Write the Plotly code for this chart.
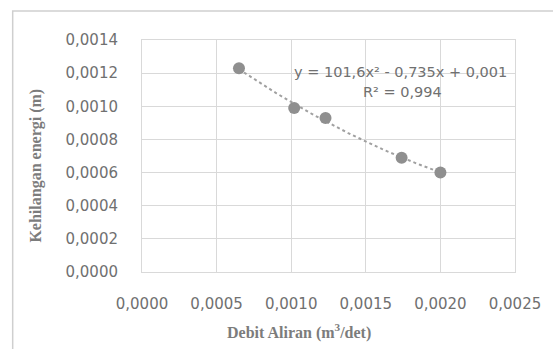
import numpy as np
import plotly.graph_objects as go

# Measured flow rate (m3/s) and head loss (m)
debit = [0.00065, 0.00102, 0.00123, 0.00174, 0.00200]
kehilangan = [0.00123, 0.00099, 0.00093, 0.00069, 0.00060]

x_ticks = [0.0, 0.0005, 0.0010, 0.0015, 0.0020, 0.0025]
y_ticks = [0.0, 0.0002, 0.0004, 0.0006, 0.0008, 0.0010, 0.0012, 0.0014]

eq_label = "y = 101,6x² - 0,735x + 0,001"
r2_label = "R² = 0,994"

# Second-order polynomial trendline over the measured range
coef = np.polyfit(debit, kehilangan, 2)
xs = np.linspace(min(debit), max(debit), 60)
ys = np.polyval(coef, xs)

W, H = 553, 349
L, R, T, B = 142, 36, 40, 77
pw, ph = W - L - R, H - T - B


def px_x(p):
    return (p - L) / pw


def px_y(p):
    return (H - B - p) / ph


tick_font = dict(family="DejaVu Sans", size=15, color="#707070")
title_font = dict(family="Liberation Serif", size=16, color="#7c7c7c")
note_font = dict(family="DejaVu Sans", size=14.5, color="#707070")
grid = "#d9d9d9"

fig = go.Figure()
fig.add_trace(go.Scatter(
    x=xs, y=ys, mode="lines",
    line=dict(color="#a0a0a0", width=2, dash="dot"),
    hoverinfo="skip", showlegend=False,
))
fig.add_trace(go.Scatter(
    x=debit, y=kehilangan, mode="markers",
    marker=dict(color="#8f8f8f", size=12),
    showlegend=False,
))

fig.update_layout(
    width=W, height=H,
    margin=dict(l=L, r=R, t=T, b=B),
    paper_bgcolor="white", plot_bgcolor="white",
    separators=",.",
    xaxis=dict(
        range=[0, 0.0025], tickvals=x_ticks, tickformat=".4f",
        showgrid=True, gridcolor=grid, gridwidth=1,
        zeroline=False, showline=True, linecolor=grid, mirror=True,
        ticks="", ticklabelstandoff=18, tickfont=tick_font,
        fixedrange=True,
    ),
    yaxis=dict(
        range=[0, 0.0014], tickvals=y_ticks, tickformat=".4f",
        showgrid=True, gridcolor=grid, gridwidth=1,
        zeroline=False, showline=True, linecolor=grid, mirror=True,
        ticks="", ticklabelstandoff=20, tickfont=tick_font,
        fixedrange=True,
    ),
    shapes=[dict(
        type="rect", xref="paper", yref="paper",
        x0=px_x(12), x1=px_x(W + 10), y0=px_y(H + 10), y1=px_y(11),
        line=dict(color="#cfcfcf", width=1.5), fillcolor="rgba(0,0,0,0)",
        layer="below",
    )],
    annotations=[
        dict(text="<b>Debit Aliran (m<sup>3</sup>/det)</b>", xref="paper", yref="paper",
             x=px_x(300), y=px_y(331), showarrow=False, font=title_font,
             xanchor="center", yanchor="middle"),
        dict(text="<b>Kehilangan energi (m)</b>", xref="paper", yref="paper",
             x=px_x(35), y=px_y(166), showarrow=False, font=title_font,
             textangle=-90, xanchor="center", yanchor="middle"),
        dict(text=eq_label, xref="paper", yref="paper",
             x=px_x(402), y=px_y(72), showarrow=False, font=note_font,
             xanchor="center", yanchor="middle"),
        dict(text=r2_label, xref="paper", yref="paper",
             x=px_x(404), y=px_y(92), showarrow=False, font=note_font,
             xanchor="center", yanchor="middle"),
    ],
)

fig.write_html("out.html")
